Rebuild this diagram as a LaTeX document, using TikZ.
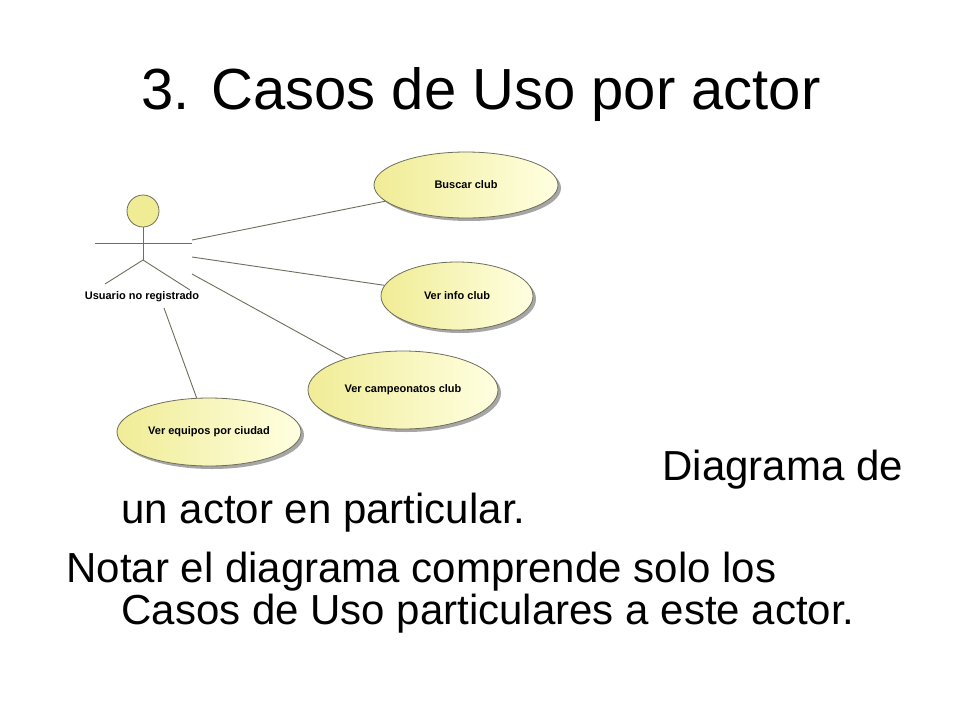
\documentclass[tikz,border=0pt]{standalone}
\usepackage{fontspec}
\setmainfont{Liberation Sans}
\usetikzlibrary{shapes.geometric}
\definecolor{ucfill}{RGB}{240,236,150}
\definecolor{ucfillb}{RGB}{255,255,225}
\definecolor{ucline}{RGB}{110,110,90}
\tikzset{
  usecase/.style={ellipse, draw=ucline, thick, left color=ucfill, right color=ucfillb,
    font=\bfseries\fontsize{11}{13}\selectfont, inner sep=0pt},
  assoc/.style={draw=ucline, line width=0.9pt},
  slidetext/.style={anchor=base west, font=\fontsize{42}{50}\selectfont}
}
\begin{document}
\begin{tikzpicture}[x=1pt,y=-1pt]
  \useasboundingbox (0,0) rectangle (960,720);
  \fill[white] (0,0) rectangle (960,720);
  % title
  \node[font=\fontsize{58}{66}\selectfont] (title) at (481,95) {3. Casos de Uso por actor};
  % use cases
  \foreach \x/\y/\rx/\ry/\n/\t in {466/185/92/33/buscar/Buscar club,
      457/296/76/34/info/Ver info club,
      403/390/95/39/camp/Ver campeonatos club,
      209/432/92/34/equipos/Ver equipos por ciudad}{
    \fill[black!35] (\x+3,\y+3) ellipse ({\rx} and {\ry});
    \node[usecase, minimum width=2*\rx, minimum height=2*\ry] (\n) at (\x,\y) {\t};
  }
  % actor
  \node[circle, draw=ucline, thick, fill=ucfill, minimum size=32pt, inner sep=0pt] (head) at (143,211) {};
  \coordinate (hip) at (143,260);
  \draw[assoc] (head.south) -- (hip);
  \draw[assoc] (95,243) -- (192,243);
  \draw[assoc] (hip) -- (105,284);
  \draw[assoc] (hip) -- (190,290);
  \node[font=\bfseries\fontsize{11}{13}\selectfont] (actor) at (142,297) {Usuario no registrado};
  \coordinate (a1) at (192,240);
  \coordinate (a2) at (192,257);
  \coordinate (a3) at (192,274);
  \coordinate (a4) at (164,308);
  % associations
  \draw[assoc] (a1) -- (buscar);
  \draw[assoc] (a2) -- (info);
  \draw[assoc] (a3) -- (camp);
  \draw[assoc] (a4) -- (equipos);
  % text
  \node[slidetext] (t1) at (659,480) {Diagrama de};
  \node[slidetext] (t2) at (118,523) {un actor en particular.};
  \node[slidetext] (t3) at (63,582) {Notar el diagrama comprende solo los};
  \node[slidetext] (t4) at (118,624) {Casos de Uso particulares a este actor.};
\end{tikzpicture}
\end{document}
